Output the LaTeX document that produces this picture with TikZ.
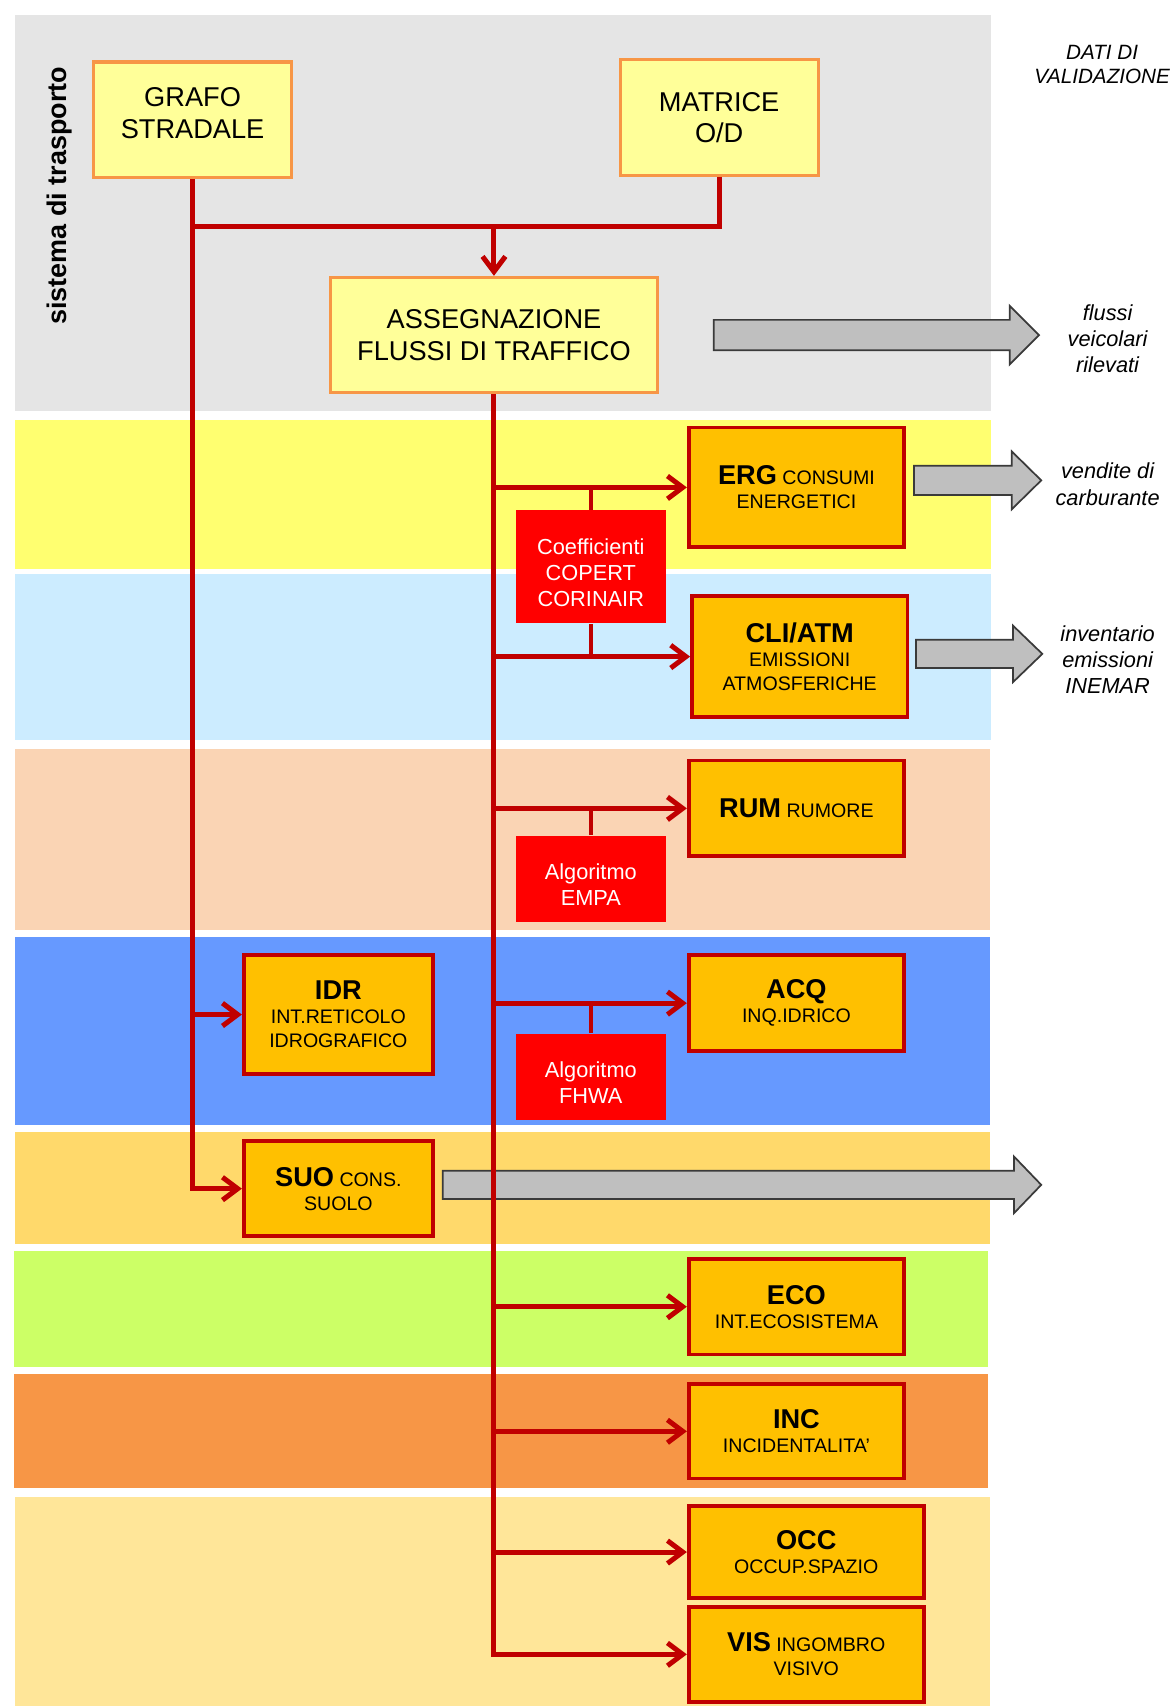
\documentclass[tikz,border=0pt]{standalone}
\usepackage{fontspec}
\setmainfont{Liberation Sans}
\usetikzlibrary{arrows.meta}
\definecolor{lnred}{HTML}{C00000}
\definecolor{lightFill}{HTML}{FFFF99}
\definecolor{lightBorder}{HTML}{F79646}
\definecolor{resFill}{HTML}{FFC000}
\definecolor{redFill}{HTML}{FF0000}
\definecolor{arrGray}{HTML}{BFBFBF}
\definecolor{arrEdge}{HTML}{3A3A3A}
\definecolor{bgGray}{HTML}{E5E5E5}
\definecolor{bgYellow}{HTML}{FFFF70}
\definecolor{bgLblue}{HTML}{CCECFF}
\definecolor{bgPeach}{HTML}{FAD4B4}
\definecolor{bgBlue}{HTML}{6699FF}
\definecolor{bgLorange}{HTML}{FFD96B}
\definecolor{bgGreen}{HTML}{CCFF66}
\definecolor{bgOrange}{HTML}{F79646}
\definecolor{bgPale}{HTML}{FFE699}
\newcommand\headtxt[1]{{\fontsize{12.5}{11}\selectfont\bfseries #1}}
\newcommand\toppad{\rule{0pt}{12.8pt}}
\begin{document}
\begin{tikzpicture}[x=0.5pt,y=-0.5pt,
  lightbox/.style={draw=lightBorder, fill=lightFill, line width=1.5pt, minimum width=91pt, minimum height=53pt, align=center, font=\fontsize{12.5}{14.5}\selectfont, inner sep=0pt},
  resbox/.style={draw=lnred, fill=resFill, line width=1.7pt, minimum width=99pt, minimum height=44pt, align=center, font=\fontsize{9}{11}\selectfont, inner sep=0pt},
  redbox/.style={fill=redFill, text=white, align=center, font=\fontsize{10}{12}\selectfont, minimum width=69pt, minimum height=39.5pt, inner sep=0pt},
  sidetxt/.style={align=center, font=\itshape\fontsize{10}{12}\selectfont, inner sep=0pt},
  conn/.style={draw=lnred, line width=2.3pt},
  arr/.style={conn, -{Straight Barb[length=7pt,width=10.5pt,line width=2.3pt]}},
  tie/.style={draw=lnred, line width=1.8pt},
  blockarrow/.style={fill=arrGray, draw=arrEdge, line width=0.8pt, line join=miter}
]
\useasboundingbox (0,0) rectangle (1078,1568);
% bands
\fill[bgGray] (14,14) rectangle (911,378);
\fill[bgYellow] (14,386) rectangle (911,523);
\fill[bgLblue] (14,528) rectangle (911,680);
\fill[bgPeach] (14,688) rectangle (910,855);
\fill[bgBlue] (14,861) rectangle (910,1034);
\fill[bgLorange] (14,1040) rectangle (910,1143);
\fill[bgGreen] (13,1150) rectangle (908,1256);
\fill[bgOrange] (13,1263) rectangle (908,1368);
\fill[bgPale] (14,1376) rectangle (910,1568);

\node[rotate=90, font=\bfseries\fontsize{12.4}{12}\selectfont, inner sep=0pt] (sist) at (55,180) {sistema di trasporto};

% top boxes
\node[lightbox] (grafo) at (177,110) {GRAFO\\STRADALE\rule[-6pt]{0pt}{6pt}};
\node[lightbox] (matrice) at (661,108) {MATRICE\\O/D};
\node[lightbox, minimum width=150pt] (ass) at (454,308) {ASSEGNAZIONE\\FLUSSI DI TRAFFICO};

% result boxes
\node[resbox, minimum height=55pt] (erg) at (732,448) {\headtxt{ERG} CONSUMI\\ENERGETICI};
\node[resbox, minimum height=55.5pt] (cli) at (735,603.5) {\headtxt{CLI/ATM}\\EMISSIONI\\ATMOSFERICHE};
\node[resbox] (rum) at (732,743) {\headtxt{RUM} RUMORE};
\node[resbox, minimum width=87pt, minimum height=54.5pt] (idr) at (311,932.5) {\headtxt{IDR}\\INT.RETICOLO\\IDROGRAFICO};
\node[resbox] (acq) at (732,922) {\headtxt{ACQ}\\INQ.IDRICO};
\node[resbox, minimum width=87pt, minimum height=43.5pt] (suo) at (311,1092.5) {\headtxt{SUO} CONS.\\SUOLO};
\node[resbox] (eco) at (732,1201) {\headtxt{ECO}\\INT.ECOSISTEMA};
\node[resbox, minimum height=43.5pt] (inc) at (732,1315.5) {\headtxt{INC}\\INCIDENTALITA'};
\node[resbox, minimum width=108pt, minimum height=42.5pt] (occ) at (741,1426.5) {\headtxt{OCC}\\OCCUP.SPAZIO};
\node[resbox, minimum width=108pt, minimum height=43.5pt] (vis) at (741,1520.5) {\headtxt{VIS} INGOMBRO\\VISIVO};

% red boxes
\node[redbox, minimum height=52pt] (coef) at (543,521) {\toppad Coefficienti\\COPERT\\CORINAIR};
\node[redbox] (empa) at (543,807.5) {\toppad Algoritmo\\EMPA};
\node[redbox] (fhwa) at (543,989.5) {\toppad Algoritmo\\FHWA};

% side texts
\node[sidetxt, font=\itshape\fontsize{9.5}{11}\selectfont] (dati) at (1013,59) {DATI DI\\VALIDAZIONE};
\node[sidetxt] (flussi) at (1018,311) {flussi\\veicolari\\rilevati};
\node[sidetxt] (vendite) at (1018,445) {vendite di\\carburante};
\node[sidetxt] (invent) at (1018,606) {inventario\\emissioni\\INEMAR};

% gray block arrows
\draw[blockarrow] (656,294) -- (928,294) -- (928,281) -- (955,308) -- (928,335) -- (928,322) -- (656,322) -- cycle;
\draw[blockarrow] (840,428) -- (930,428) -- (930,415) -- (957,441.5) -- (930,468) -- (930,455) -- (840,455) -- cycle;
\draw[blockarrow] (842,588) -- (931,588) -- (931,575) -- (958,601) -- (931,627) -- (931,614) -- (842,614) -- cycle;
\draw[blockarrow] (407,1076) -- (932,1076) -- (932,1063) -- (957,1089) -- (932,1115) -- (932,1102) -- (407,1102) -- cycle;

% top connectors
\coordinate (j) at (454,208);
\draw[conn] (matrice.south) |- (j);
\draw[conn] (grafo.south) -- (grafo.south |- j) -- (j);
\draw[arr] (j) -- (ass.north);

% left spine
\draw[arr] (grafo.south |- j) |- (suo.west);
\draw[arr] (grafo.south |- idr.west) -- (idr.west);

% main spine
\draw[arr] (ass.south) |- (vis.west);
\foreach \t in {erg,cli,rum,acq,eco,inc,occ}{
  \draw[arr] (ass.south |- \t.west) -- (\t.west);
}

% ties
\draw[tie] (coef.north) -- (coef.north |- erg.west);
\draw[tie] (coef.south) -- (coef.south |- cli.west);
\draw[tie] (empa.north) -- (empa.north |- rum.west);
\draw[tie] (fhwa.north) -- (fhwa.north |- acq.west);
\end{tikzpicture}
\end{document}
